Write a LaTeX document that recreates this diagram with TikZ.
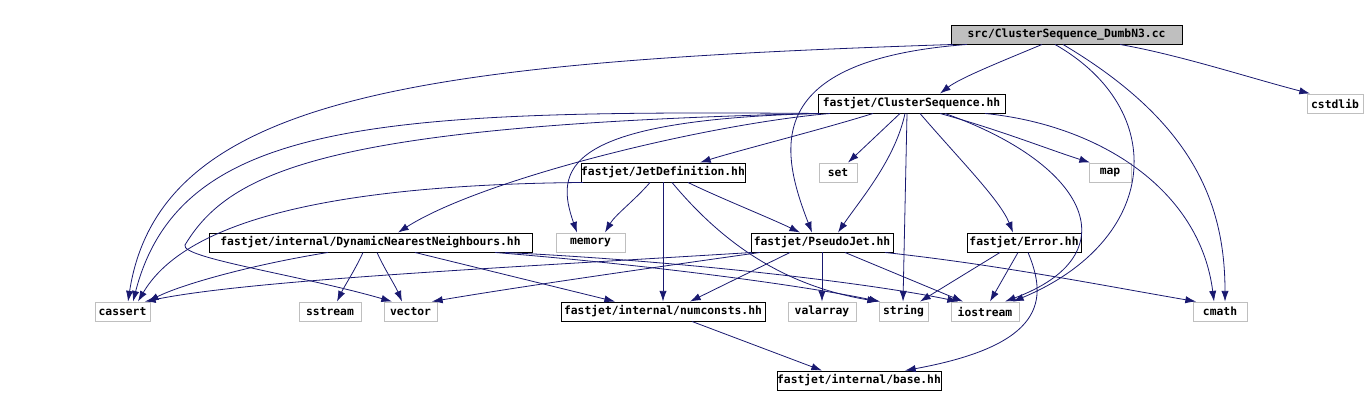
\documentclass[tikz,border=0pt]{standalone}
\usepackage{fontspec}
\setmonofont{DejaVu Sans Mono}
\usepackage{tikz}
\usetikzlibrary{arrows.meta}

\definecolor{edgeblue}{HTML}{191970}
\definecolor{boxgray}{HTML}{BFBFBF}

\begin{document}
\begin{tikzpicture}[x=0.75pt,y=-0.75pt,
	hdr/.style={draw=black, line width=0.7pt, fill=white, inner sep=0pt, minimum height=14.25pt,
		font=\ttfamily\bfseries\fontsize{8.5}{10}\selectfont},
	src/.style={hdr, fill=boxgray},
	sys/.style={hdr, draw=boxgray},
	inc/.style={draw=edgeblue, line width=0.6pt, -{Latex[length=8pt,width=5.5pt]}}]
\useasboundingbox (0,0) rectangle (1366,408);

\node[src] (main) at (1066.5,34.5) [minimum width=173.25pt] {src/ClusterSequence\_DumbN3.cc};
\node[hdr] (cs) at (911.5,103.5) [minimum width=140.25pt] {fastjet/ClusterSequence.hh};
\node[sys] (cstdlib) at (1335,103.5) [minimum width=42pt] {cstdlib};
\node[hdr] (jetdef) at (663,172.5) [minimum width=123pt] {fastjet/JetDefinition.hh};
\node[sys] (set) at (838,172.5) [minimum width=28.5pt] {set};
\node[sys] (map) at (1110,172.5) [minimum width=31.5pt] {map};
\node[hdr] (dnn) at (370.5,242.5) [minimum width=242.25pt] {fastjet/internal/DynamicNearestNeighbours.hh};
\node[sys] (memory) at (590.5,242.5) [minimum width=51.75pt] {memory};
\node[hdr] (pj) at (822,242.5) [minimum width=106.5pt] {fastjet/PseudoJet.hh};
\node[hdr] (error) at (1024,242.5) [minimum width=85.5pt] {fastjet/Error.hh};
\node[sys] (cassert) at (122.5,311.5) [minimum width=41.25pt] {cassert};
\node[sys] (sstream) at (330,311.5) [minimum width=46.5pt] {sstream};
\node[sys] (vector) at (410.5,311.5) [minimum width=39.75pt] {vector};
\node[hdr] (numconsts) at (663,311.5) [minimum width=153pt] {fastjet/internal/numconsts.hh};
\node[sys] (valarray) at (822,311.5) [minimum width=51pt] {valarray};
\node[sys] (string) at (903.5,311.5) [minimum width=36.75pt] {string};
\node[sys] (iostream) at (985,311.5) [minimum width=51pt] {iostream};
\node[sys] (cmath) at (1220,311.5) [minimum width=40.5pt] {cmath};
\node[hdr] (base) at (859,380.5) [minimum width=123pt] {fastjet/internal/base.hh};

% includes of the source file
\draw[inc] (main.south -| 1042,0) .. controls (1000,62) and (960,78) .. (cs.north -| 940,0);
\draw[inc] (main.south -| 953,0) .. controls (420,62) and (160,95) .. (cassert.north -| 128,0);
\draw[inc] (main.south -| 967,0) .. controls (760,60) and (780,150) .. (pj.north -| 812,0);
\draw[inc] (main.south -| 1055,0) .. controls (1170,110) and (1160,240) .. (iostream.north -| 1013,0);
\draw[inc] (main.south -| 1063,0) .. controls (1190,120) and (1225,200) .. (cmath.north -| 1225,0);
\draw[inc] (main.south -| 1120,0) .. controls (1180,55) and (1250,78) .. (cstdlib.north -| 1310,0);

% ClusterSequence.hh
\draw[inc] (cs.south -| 873,0) .. controls (820,130) and (740,150) .. (jetdef.north -| 700,0);
\draw[inc] (cs.south -| 900,0) -- (set.north -| 848,0);
\draw[inc] (cs.south -| 940,0) .. controls (1000,130) and (1050,150) .. (map.north -| 1090,0);
\draw[inc] (cs.south -| 830,0) .. controls (700,125) and (480,180) .. (dnn.north -| 398,0);
\draw[inc] (cs.south -| 820,0) .. controls (560,120) and (555,170) .. (memory.north -| 577,0);
\draw[inc] (cs.south -| 818,0) .. controls (380,110) and (180,120) .. (cassert.north -| 133,0);
\draw[inc] (cs.south -| 818,0) .. controls (330,125) and (230,170) .. (185,245)
	.. controls (180,258) and (300,275) .. (vector.north -| 392,0);
\draw[inc] (cs.south -| 905,0) .. controls (895,160) and (860,200) .. (pj.north -| 838,0);
\draw[inc] (cs.south -| 907,0) -- (string.north -| 903,0);
\draw[inc] (cs.south -| 920,0) .. controls (960,160) and (1000,200) .. (error.north -| 1013,0);
\draw[inc] (cs.south -| 945,0) .. controls (1090,165) and (1130,255) .. (iostream.north -| 1005,0);
\draw[inc] (cs.south -| 985,0) .. controls (1100,125) and (1200,190) .. (cmath.north -| 1214,0);

% JetDefinition.hh
\draw[inc] (jetdef.south -| 650,0) .. controls (635,200) and (615,215) .. (memory.north -| 605,0);
\draw[inc] (jetdef.south -| 688,0) .. controls (720,198) and (770,218) .. (pj.north -| 800,0);
\draw[inc] (jetdef.south) -- (numconsts.north);
\draw[inc] (jetdef.south -| 672,0) .. controls (720,240) and (780,285) .. (string.north -| 878,0);
\draw[inc] (jetdef.south -| 583,0) .. controls (300,185) and (180,230) .. (cassert.north -| 138,0);

% DynamicNearestNeighbours.hh
\draw[inc] (dnn.south -| 328,0) .. controls (250,265) and (180,285) .. (cassert.north -| 148,0);
\draw[inc] (dnn.south -| 363,0) .. controls (355,270) and (345,285) .. (sstream.north -| 337,0);
\draw[inc] (dnn.south -| 377,0) .. controls (385,270) and (395,285) .. (vector.north -| 402,0);
\draw[inc] (dnn.south -| 415,0) -- (numconsts.north -| 615,0);
\draw[inc] (dnn.south -| 495,0) .. controls (650,265) and (800,285) .. (string.north -| 880,0);
\draw[inc] (dnn.south -| 505,0) .. controls (700,262) and (880,285) .. (iostream.north -| 958,0);

% PseudoJet.hh
\draw[inc] (pj.south -| 752,0) .. controls (500,268) and (250,280) .. (cassert.north -| 145,0);
\draw[inc] (pj.south -| 760,0) .. controls (600,275) and (500,290) .. (vector.north -| 432,0);
\draw[inc] (pj.south -| 790,0) -- (numconsts.north -| 690,0);
\draw[inc] (pj.south) -- (valarray.north);
\draw[inc] (pj.south -| 845,0) -- (iostream.north -| 963,0);
\draw[inc] (pj.south -| 885,0) .. controls (1000,265) and (1100,285) .. (cmath.north -| 1196,0);

% Error.hh
\draw[inc] (error.south -| 1000,0) -- (string.north -| 920,0);
\draw[inc] (error.south -| 1018,0) -- (iostream.north -| 990,0);
\draw[inc] (error.south -| 1028,0) .. controls (1048,300) and (1045,345) .. (base.north -| 905,0);

\draw[inc] (numconsts.south -| 692,0) -- (base.north -| 822,0);
\end{tikzpicture}
\end{document}
